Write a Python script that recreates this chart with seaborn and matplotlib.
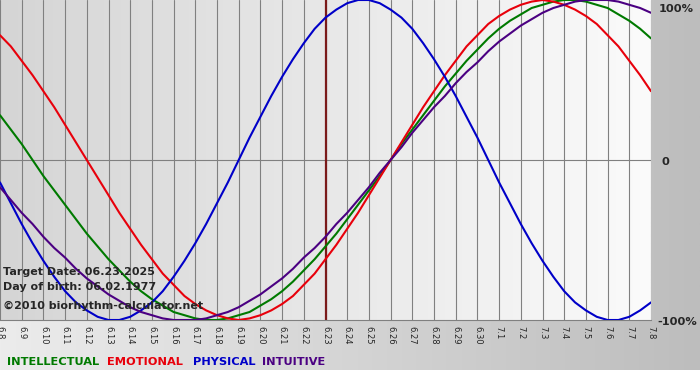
import numpy as np
import pandas as pd
import matplotlib
matplotlib.use("Agg")
import matplotlib.pyplot as plt
import seaborn as sns

# day labels 6.8 .. 7.8
days = ["6.8", "6.9", "6.10", "6.11", "6.12", "6.13", "6.14", "6.15", "6.16", "6.17",
        "6.18", "6.19", "6.20", "6.21", "6.22", "6.23", "6.24", "6.25", "6.26", "6.27",
        "6.28", "6.29", "6.30", "7.1", "7.2", "7.3", "7.4", "7.5", "7.6", "7.7", "7.8"]

# values every half day (-1 .. 1)
intellectual = [0.28, 0.19, 0.10, 0.00, -0.10, -0.19, -0.28, -0.37, -0.46, -0.54,
                -0.62, -0.69, -0.76, -0.82, -0.87, -0.91, -0.95, -0.97, -0.99, -1.00,
                -1.00, -0.99, -0.97, -0.95, -0.91, -0.87, -0.82, -0.76, -0.69, -0.62,
                -0.54, -0.46, -0.37, -0.28, -0.19, -0.10, 0.00, 0.10, 0.19, 0.28,
                0.37, 0.46, 0.54, 0.62, 0.69, 0.76, 0.82, 0.87, 0.91, 0.95,
                0.97, 0.99, 1.00, 1.00, 0.99, 0.97, 0.95, 0.91, 0.87, 0.82,
                0.76]
emotional = [0.78, 0.71, 0.62, 0.53, 0.43, 0.33, 0.22, 0.11, 0.00, -0.11,
             -0.22, -0.33, -0.43, -0.53, -0.62, -0.71, -0.78, -0.85, -0.90, -0.94,
             -0.97, -0.99, -1.00, -0.99, -0.97, -0.94, -0.90, -0.85, -0.78, -0.71,
             -0.62, -0.53, -0.43, -0.33, -0.22, -0.11, 0.00, 0.11, 0.22, 0.33,
             0.43, 0.53, 0.62, 0.71, 0.78, 0.85, 0.90, 0.94, 0.97, 0.99,
             1.00, 0.99, 0.97, 0.94, 0.90, 0.85, 0.78, 0.71, 0.62, 0.53,
             0.43]
physical = [-0.14, -0.27, -0.40, -0.52, -0.63, -0.73, -0.82, -0.89, -0.94, -0.98,
            -1.00, -1.00, -0.98, -0.94, -0.89, -0.82, -0.73, -0.63, -0.52, -0.40,
            -0.27, -0.14, 0.00, 0.14, 0.27, 0.40, 0.52, 0.63, 0.73, 0.82,
            0.89, 0.94, 0.98, 1.00, 1.00, 0.98, 0.94, 0.89, 0.82, 0.73,
            0.63, 0.52, 0.40, 0.27, 0.14, 0.00, -0.14, -0.27, -0.40, -0.52,
            -0.63, -0.73, -0.82, -0.89, -0.94, -0.98, -1.00, -1.00, -0.98, -0.94,
            -0.89]
intuitive = [-0.17, -0.25, -0.33, -0.40, -0.48, -0.55, -0.61, -0.68, -0.74, -0.79,
             -0.84, -0.88, -0.92, -0.95, -0.97, -0.99, -1.00, -1.00, -1.00, -0.99,
             -0.97, -0.95, -0.92, -0.88, -0.84, -0.79, -0.74, -0.68, -0.61, -0.55,
             -0.48, -0.40, -0.33, -0.25, -0.17, -0.08, 0.00, 0.08, 0.17, 0.25,
             0.33, 0.40, 0.48, 0.55, 0.61, 0.68, 0.74, 0.79, 0.84, 0.88,
             0.92, 0.95, 0.97, 0.99, 1.00, 1.00, 1.00, 0.99, 0.97, 0.95,
             0.92]

target_day = "6.23"
cycles = ["INTELLECTUAL", "EMOTIONAL", "PHYSICAL", "INTUITIVE"]
colors = {"INTELLECTUAL": "#007a00", "EMOTIONAL": "#e8000b",
          "PHYSICAL": "#0000c8", "INTUITIVE": "#4b0082"}

# half-day steps along the x axis
steps = np.arange(len(intellectual)) / 2
df = pd.DataFrame({"day": steps,
                   "INTELLECTUAL": intellectual, "EMOTIONAL": emotional,
                   "PHYSICAL": physical, "INTUITIVE": intuitive})
df = df.melt(id_vars="day", var_name="cycle", value_name="value")

sns.set_style("white")
plt.rcParams['font.family'] = ['DejaVu Sans']

W, H = 700, 380
fig = plt.figure(figsize=(7, 3.8), dpi=100)

# background panel with gradient
bg = fig.add_axes([0, 0, 1, 1])
bg.axis("off")
grad = np.linspace(0, 1, 256)[None, :]
bg.imshow(grad, cmap=matplotlib.colors.LinearSegmentedColormap.from_list("g", ["#ececec", "#bdbdbd"]),
          extent=[0, W, 10, H], aspect="auto")
bg.set_xlim(0, W)
bg.set_ylim(0, H)

ax = fig.add_axes([0, 60 / H, 651 / W, 320 / H])
ax.imshow(grad, cmap=matplotlib.colors.LinearSegmentedColormap.from_list("p", ["#d5d5d5", "#fbfbfb"]),
          extent=[0, len(days) - 1, -1, 1], aspect="auto", zorder=0)

for i in range(len(days)):
    ax.axvline(i, color="#808080", lw=0.8, zorder=1)
ax.axhline(0, color="#808080", lw=0.8, zorder=1)
ax.axvline(days.index(target_day), color="#7a1a1a", lw=1.6, zorder=2)

sns.lineplot(data=df, x="day", y="value", hue="cycle", hue_order=cycles,
             palette=colors, linewidth=1.5, legend=False, ax=ax, zorder=3)

ax.set_xlim(0, len(days) - 1)
ax.set_ylim(-1, 1)
ax.set_xlabel("")
ax.set_ylabel("")
ax.set_yticks([])
ax.set_xticks(range(len(days)))
ax.set_xticklabels(days, rotation=270, fontsize=6, va="top", ha="center")
ax.tick_params(axis="x", length=3, color="#808080", pad=1)
for s in ax.spines.values():
    s.set_visible(False)
ax.spines["bottom"].set_visible(True)
ax.spines["bottom"].set_color("#808080")
ax.spines["bottom"].set_linewidth(0.8)

# right side percent labels
fig.text(659 / W, 1 - 9 / H, "100%", fontsize=8.2, fontweight="bold", va="center")
fig.text(661 / W, 1 - 162 / H, "0", fontsize=8.2, fontweight="bold", va="center")
fig.text(657 / W, 1 - 322 / H, "-100%", fontsize=8.2, fontweight="bold", va="center")

# info text
fig.text(3 / W, 1 - 272 / H, "Target Date: 06.23.2025", fontsize=8, fontweight="bold", va="center")
fig.text(3 / W, 1 - 287 / H, "Day of birth: 06.02.1977", fontsize=8, fontweight="bold", va="center")
fig.text(3 / W, 1 - 306 / H, "\u00a92010 biorhythm-calculator.net", fontsize=8, fontweight="bold", va="center")

# legend words
for name, x in zip(cycles, [7, 107, 193, 262]):
    fig.text(x / W, 1 - 362 / H, name, fontsize=8.2, fontweight="bold", va="center", color=colors[name])

fig.savefig("out.png", dpi=100)
